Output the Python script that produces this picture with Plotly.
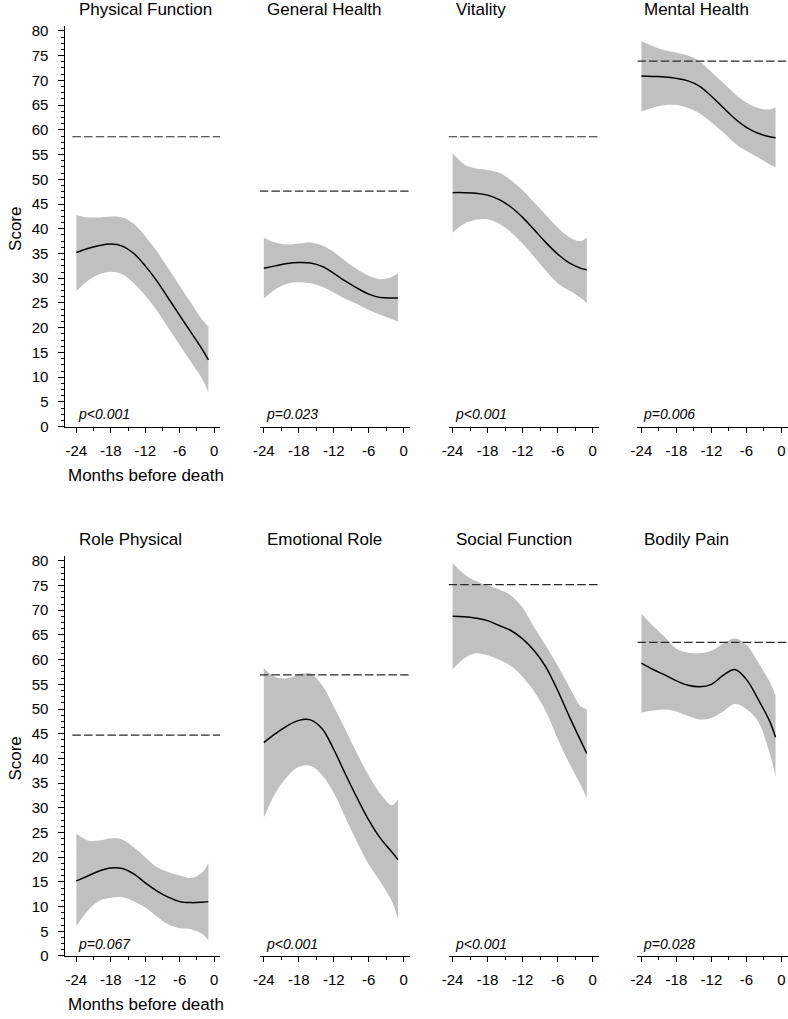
import plotly.graph_objects as go

# ---------------- data ----------------
months = [-24, -22, -20, -18, -16, -14, -12, -10, -8, -6, -4, -2, -1]

titles = ["Physical Function", "General Health", "Vitality", "Mental Health",
          "Role Physical", "Emotional Role", "Social Function", "Bodily Pain"]
p_values = ["p<0.001", "p=0.023", "p<0.001", "p=0.006",
            "p=0.067", "p<0.001", "p<0.001", "p=0.028"]
reference = [58.6, 47.6, 58.6, 73.9, 44.7, 56.9, 75.2, 63.5]

pf_mean = [35.2, 36.0, 36.6, 36.9, 36.5, 35.0, 32.5, 29.5, 26.0, 22.5, 19.0, 15.5, 13.5]
pf_up = [42.8, 42.3, 42.3, 42.5, 42.3, 41.0, 38.5, 35.5, 32.0, 28.5, 25.0, 21.5, 20.2]
pf_lo = [27.4, 29.5, 30.8, 31.3, 30.8, 29.0, 26.5, 23.5, 20.0, 16.5, 13.0, 9.5, 7.0]

gh_mean = [32.0, 32.5, 33.0, 33.2, 33.1, 32.4, 31.0, 29.4, 28.0, 26.8, 26.1, 26.0, 26.0]
gh_up = [38.2, 37.2, 36.8, 37.0, 37.2, 36.6, 35.3, 33.5, 31.8, 30.5, 29.8, 30.3, 31.0]
gh_lo = [25.9, 27.8, 28.9, 29.2, 29.0, 28.3, 27.1, 25.8, 24.8, 23.6, 22.6, 21.7, 21.2]

vt_mean = [47.3, 47.3, 47.2, 46.8, 45.9, 44.4, 42.3, 39.8, 37.2, 34.9, 33.1, 32.0, 31.7]
vt_up = [55.3, 53.0, 52.2, 51.9, 51.3, 49.8, 47.8, 45.3, 42.8, 40.3, 38.3, 37.5, 38.3]
vt_lo = [39.2, 41.0, 41.8, 41.9, 41.0, 39.3, 37.0, 34.3, 31.5, 29.0, 27.5, 26.0, 25.0]

mh_mean = [70.9, 70.8, 70.7, 70.4, 69.9, 68.8, 66.8, 64.5, 62.3, 60.5, 59.3, 58.6, 58.4]
mh_up = [77.9, 76.9, 76.1, 75.6, 75.0, 73.8, 71.7, 69.5, 67.3, 65.5, 64.4, 64.1, 64.5]
mh_lo = [63.7, 64.5, 65.0, 65.0, 64.4, 63.3, 61.5, 59.5, 57.3, 55.7, 54.4, 53.0, 52.4]

rp_mean = [15.2, 16.2, 17.2, 17.8, 17.7, 16.6, 14.8, 13.2, 11.9, 11.0, 10.8, 10.9, 11.0]
rp_up = [24.8, 23.4, 23.4, 23.8, 23.6, 22.0, 20.0, 18.0, 17.0, 16.3, 15.8, 17.0, 18.8]
rp_lo = [6.0, 9.2, 11.2, 11.8, 11.9, 11.1, 9.8, 8.0, 6.4, 5.6, 5.4, 4.4, 3.2]

er_mean = [43.2, 45.0, 46.6, 47.7, 47.8, 46.0, 41.8, 36.8, 32.0, 27.5, 23.8, 21.0, 19.5]
er_up = [58.2, 56.5, 56.2, 57.0, 57.2, 54.8, 50.5, 45.8, 41.0, 36.5, 32.8, 30.5, 31.8]
er_lo = [28.0, 33.0, 36.3, 38.3, 38.5, 36.6, 33.0, 28.0, 23.0, 18.5, 15.0, 11.0, 7.5]

sf_mean = [68.8, 68.7, 68.4, 67.9, 66.9, 65.9, 64.2, 61.8, 58.5, 53.8, 48.5, 43.5, 41.0]
sf_up = [79.5, 77.3, 75.9, 75.0, 74.2, 73.0, 70.5, 66.5, 62.8, 58.8, 54.5, 50.5, 50.0]
sf_lo = [58.0, 60.3, 61.3, 60.9, 60.0, 58.7, 56.5, 53.5, 49.5, 44.0, 39.0, 34.5, 32.0]

bp_mean = [59.3, 58.0, 56.9, 55.7, 54.8, 54.5, 55.0, 56.8, 58.0, 56.0, 52.0, 47.5, 44.3]
bp_up = [69.3, 66.8, 64.6, 62.2, 61.4, 61.3, 61.8, 63.2, 64.3, 63.0, 59.5, 55.5, 52.7]
bp_lo = [49.3, 49.7, 49.9, 49.5, 48.6, 47.9, 48.2, 49.5, 51.0, 50.0, 47.5, 41.0, 36.3]

means = [pf_mean, gh_mean, vt_mean, mh_mean, rp_mean, er_mean, sf_mean, bp_mean]
uppers = [pf_up, gh_up, vt_up, mh_up, rp_up, er_up, sf_up, bp_up]
lowers = [pf_lo, gh_lo, vt_lo, mh_lo, rp_lo, er_lo, sf_lo, bp_lo]

x_ticks = [-24, -18, -12, -6, 0]
y_ticks = list(range(0, 81, 5))

# ---------------- layout geometry (pixels) ----------------
W, H = 788, 1019
FONT = "Liberation Sans, Arial, sans-serif"
row_px = [(22.7, 427.7), (559.0, 963.3)]        # top, bottom of y-axis
col_px = [(59.0, 215.0), (255.0, 406.5), (445.5, 597.0), (636.0, 787.5)]
col_range = [[-25.9, 1.04], [-24.7, 1.05], [-24.7, 1.05], [-24.7, 1.05]]
y_range = [0, 80.9]
ref_x = [-24.7, 1.05]


def px_x(p):
    return p / W


def px_y(p):
    return 1 - p / H


fig = go.Figure()
annotations = []
layout = {}

for i in range(8):
    r, c = divmod(i, 4)
    n = "" if i == 0 else str(i + 1)
    xa, ya = "x" + n, "y" + n
    # band
    fig.add_trace(go.Scatter(x=months, y=lowers[i], mode="lines",
                             line=dict(color="rgba(0,0,0,0)", width=0, shape="spline"),
                             xaxis=xa, yaxis=ya, showlegend=False, hoverinfo="skip"))
    fig.add_trace(go.Scatter(x=months, y=uppers[i], mode="lines", fill="tonexty",
                             fillcolor="#c0c0c0",
                             line=dict(color="rgba(0,0,0,0)", width=0, shape="spline"),
                             xaxis=xa, yaxis=ya, showlegend=False, hoverinfo="skip"))
    # reference line
    fig.add_trace(go.Scatter(x=ref_x, y=[reference[i]] * 2, mode="lines",
                             line=dict(color="#2a2a2a", width=1.2, dash="8.5px,3.2px"),
                             xaxis=xa, yaxis=ya, showlegend=False))
    # mean line
    fig.add_trace(go.Scatter(x=months, y=means[i], mode="lines",
                             line=dict(color="black", width=1.5, shape="spline"),
                             xaxis=xa, yaxis=ya, showlegend=False))

    top, bot = row_px[r]
    left, right = col_px[c]
    layout["xaxis" + n] = dict(
        domain=[px_x(left), px_x(right)], range=col_range[c], anchor=ya,
        showline=True, linecolor="black", linewidth=1, showgrid=False, zeroline=False,
        ticks="outside", ticklen=5, tickwidth=1, tickcolor="black",
        tickvals=x_ticks, ticktext=[str(v) for v in x_ticks],
        tickfont=dict(family=FONT, size=15, color="black"), ticklabelstandoff=5,
        minor=dict(dtick=3, tick0=0, ticks="outside", ticklen=3, tickcolor="black", tickwidth=1),
        fixedrange=True,
    )
    if c == 0:
        layout["yaxis" + n] = dict(
            domain=[px_y(bot), px_y(top)], range=y_range, anchor=xa,
            showline=True, linecolor="black", linewidth=1, showgrid=False, zeroline=False,
            ticks="outside", ticklen=6, tickwidth=1, tickcolor="black",
            tickvals=y_ticks, ticktext=[str(v) for v in y_ticks],
            tickfont=dict(family=FONT, size=15, color="black"), ticklabelstandoff=7,
            minor=dict(dtick=1.25, tick0=0, ticks="outside", ticklen=3, tickcolor="black", tickwidth=1),
            fixedrange=True,
        )
    else:
        layout["yaxis" + n] = dict(domain=[px_y(bot), px_y(top)], range=y_range,
                                   anchor=xa, visible=False, fixedrange=True)

    # title
    title_py = 5.5 if r == 0 else 541.5
    annotations.append(dict(text=titles[i], x=-24, xref=xa, xanchor="left", xshift=1,
                            y=px_y(title_py), yref="paper", yanchor="middle",
                            showarrow=False, font=dict(family=FONT, size=17, color="black")))
    # p value
    annotations.append(dict(text="<i>" + p_values[i] + "</i>", x=-24, xref=xa, xanchor="left",
                            y=2.5, yref=ya, yanchor="middle", showarrow=False,
                            font=dict(family=FONT, size=14, color="black")))

# axis titles
for r in range(2):
    top, bot = row_px[r]
    annotations.append(dict(text="Score", x=px_x(8.5), xref="paper", xanchor="center",
                            y=px_y((top + bot) / 2 + 2), yref="paper", yanchor="middle",
                            textangle=-90, showarrow=False,
                            font=dict(family=FONT, size=17, color="black")))
    annotations.append(dict(text="Months before death", x=px_x(140), xref="paper",
                            xanchor="center", y=px_y(bot + 49), yref="paper", yanchor="middle",
                            showarrow=False, font=dict(family=FONT, size=17, color="black")))

fig.update_layout(
    width=W, height=H, margin=dict(l=0, r=0, t=0, b=0),
    paper_bgcolor="white", plot_bgcolor="rgba(0,0,0,0)",
    annotations=annotations, showlegend=False, **layout,
)

fig.write_html(
    "out.html",
    config={"displayModeBar": False},
    post_script="document.body.style.margin='0';document.body.style.overflow='hidden';",
)
